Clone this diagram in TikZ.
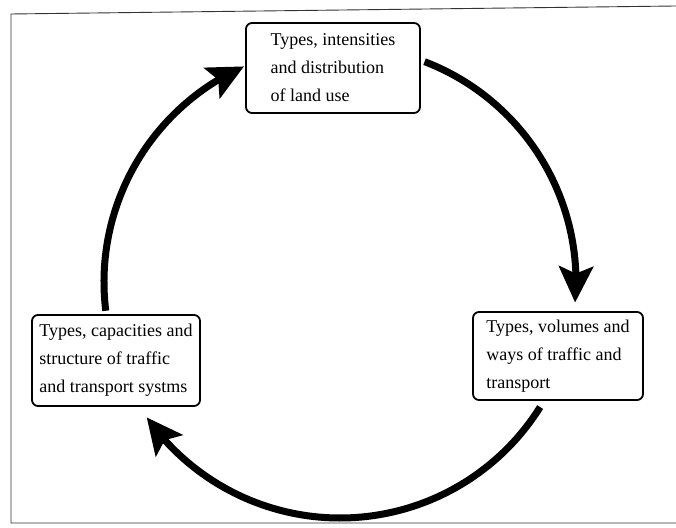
\documentclass[tikz,border=0pt]{standalone}
\usepackage{fontspec}
\setmainfont{Liberation Serif}
\usetikzlibrary{arrows.meta,bending}
\begin{document}
\begin{tikzpicture}[x=1pt,y=1pt,
  box/.style={draw=black, line width=1.8pt, rounded corners=6pt, align=left,
    font=\fontsize{18}{28}\selectfont, inner sep=0pt, fill=white},
  cyc/.style={line width=7pt, -{Stealth[length=36pt,width=34pt,inset=7pt]}},
  frame/.style={draw=black!80, line width=0.9pt}]
  \fill[white] (0,0) rectangle (676,527);
  \useasboundingbox (0,0) rectangle (676,527);
  % frame
  \coordinate (ftl) at (11,513);
  \coordinate (ftr) at (676,521);
  \coordinate (fbl) at (11,4);
  \coordinate (fbr) at (676,4);
  \draw[frame] (ftr) -- (ftl) -- (fbl) -- (fbr);
  % circle centre
  \coordinate (c) at (340,245);
  % arcs
  \draw[cyc] (c) ++(69:236) arc[start angle=69, end angle=-5, radius=236];
  \draw[cyc] (c) ++(-32:236) arc[start angle=-32, end angle=-145, radius=236];
  \draw[cyc] (c) ++(187:236) arc[start angle=187, end angle=114, radius=236];
  % boxes
  \node[box, minimum width=174pt, minimum height=90pt] (land) at (333,459)
    {Types, intensities\\and distribution\\of land use};
  \node[box, minimum width=170pt, minimum height=88pt] (traffic) at (558,171)
    {Types, volumes and\\ways of traffic and\\transport};
  \node[box, minimum width=168pt, minimum height=91pt] (systems) at (116,166.5)
    {Types, capacities and\\structure of traffic\\and transport systms};
\end{tikzpicture}
\end{document}
